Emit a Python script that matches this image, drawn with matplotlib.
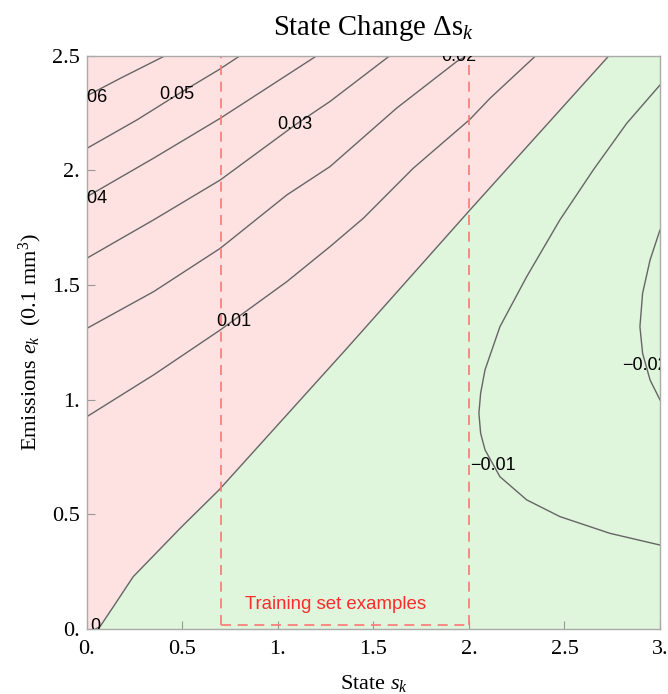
import matplotlib
matplotlib.use("Agg")
import matplotlib.pyplot as plt

plt.rcParams["font.family"] = ["Liberation Serif", "DejaVu Serif"]
plt.rcParams["mathtext.fontset"] = "custom"
plt.rcParams["mathtext.rm"] = "Liberation Serif"
plt.rcParams["mathtext.it"] = "Liberation Serif:italic"

# contour lines, (state s, emissions e) pairs
zero_s = [0.045, 0.068, 0.138, 0.242, 0.496, 0.691, 1.361, 2.005, 2.733]
zero_e = [0.0, 0.010, 0.097, 0.228, 0.446, 0.606, 1.224, 1.827, 2.5]

p01_s = [0.0, 0.349, 0.698, 1.047, 1.272, 1.447, 1.708, 2.002, 2.11, 2.35]
p01_e = [0.926, 1.108, 1.304, 1.515, 1.667, 1.791, 2.009, 2.220, 2.314, 2.5]

p02_s = [0.0, 0.349, 0.698, 1.047, 1.272, 1.621, 1.935, 1.99]
p02_e = [1.311, 1.471, 1.660, 1.893, 2.016, 2.271, 2.474, 2.5]

p03_s = [0.0, 0.349, 0.698, 1.09, 1.272, 1.586]
p03_e = [1.617, 1.784, 1.958, 2.198, 2.300, 2.5]

p04_s = [0.0, 0.349, 0.698, 1.204]
p04_e = [1.885, 2.053, 2.227, 2.5]

p05_s = [0.0, 0.262, 0.471, 0.689, 0.802]
p05_e = [2.096, 2.220, 2.329, 2.438, 2.5]

p06_s = [0.0, 0.174, 0.41]
p06_e = [2.325, 2.401, 2.5]

n01_s = [3.0, 2.826, 2.651, 2.476, 2.302, 2.162, 2.084, 2.061, 2.052, 2.061, 2.084, 2.162, 2.302, 2.476, 2.738, 3.0]
n01_e = [2.372, 2.205, 2.002, 1.784, 1.536, 1.318, 1.130, 1.028, 0.941, 0.853, 0.781, 0.664, 0.563, 0.490, 0.417, 0.366]

n02_s = [3.0, 2.948, 2.909, 2.895, 2.909, 2.948, 3.0]
n02_e = [1.740, 1.609, 1.464, 1.318, 1.202, 1.086, 0.999]

label_text = ["0", "0.01", "0.02", "0.03", "0.04", "0.05", "0.06", "\u22120.01", "\u22120.02"]
label_s = [0.042, 0.768, 1.948, 1.09, 0.016, 0.471, 0.016, 2.127, 2.921]
label_e = [0.010, 1.340, 2.497, 2.198, 1.878, 2.329, 2.317, 0.715, 1.151]

train_s = [0.7, 2.0]
train_e = 0.017

pink = "#fde2e1"
green = "#dff5dc"
line_col = "#666666"
dash_col = "#ff7676"

fig = plt.figure(figsize=(6.68, 6.94), dpi=100)
ax = fig.add_axes([0.1302, 0.0937, 0.8578, 0.8261])

ax.set_facecolor(green)
ax.fill([0.0] + zero_s + [0.0], [0.0] + zero_e + [2.5], color=pink, lw=0)

for s, e in [(zero_s, zero_e), (p01_s, p01_e), (p02_s, p02_e), (p03_s, p03_e),
             (p04_s, p04_e), (p05_s, p05_e), (p06_s, p06_e), (n01_s, n01_e), (n02_s, n02_e)]:
    ax.plot(s, e, color=line_col, lw=1.0)

for txt, s, e in zip(label_text, label_s, label_e):
    ax.text(s, e, txt, ha="center", va="center", fontsize=13,
            family="Liberation Sans", color="black", clip_on=True)

# training set box
for s in train_s:
    ax.plot([s, s], [train_e, 2.5], color=dash_col, lw=1.2, dashes=(6, 4))
ax.plot(train_s, [train_e, train_e], color=dash_col, lw=1.2, dashes=(6, 4))
ax.text(1.3, 0.105, "Training set examples", ha="center", va="center",
        fontsize=13.4, family="Liberation Sans", color="#ff2a2a")

ax.set_xlim(0, 3)
ax.set_ylim(0, 2.5)
ax.set_xticks([0, 0.5, 1, 1.5, 2, 2.5, 3])
ax.set_xticklabels(["0.", "0.5", "1.", "1.5", "2.", "2.5", "3."])
ax.set_yticks([0, 0.5, 1, 1.5, 2, 2.5])
ax.set_yticklabels(["0.", "0.5", "1.", "1.5", "2.", "2.5"])
ax.tick_params(direction="in", length=6, width=0.8, color="#999999", labelsize=16)
ax.tick_params(axis="x", pad=8)
ax.tick_params(axis="y", pad=5)
for sp in ax.spines.values():
    sp.set_color("#aaaaaa")
    sp.set_linewidth(1.0)

ax.set_title(r"State Change $\Delta\mathrm{s}_k$", fontsize=20.7, pad=15)
ax.set_xlabel(r"State $s_k$", fontsize=16, labelpad=10)
ax.set_ylabel(r"Emissions $e_k$  (0.1 mm$^3$)", fontsize=16, labelpad=6)

fig.savefig("out.png", dpi=100)
